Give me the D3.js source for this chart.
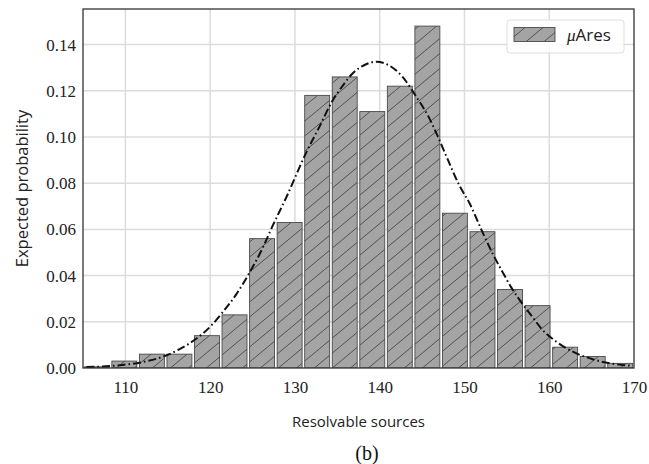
<!DOCTYPE html>
<html>
<head>
<meta charset="utf-8">
<script src="https://cdn.jsdelivr.net/npm/d3@7"></script>
<style>
  html, body { margin: 0; padding: 0; background: #fff; }
  svg { display: block; }
  .tick text { font-family: "Liberation Serif", "DejaVu Serif", serif; font-size: 17px; fill: #222; }
</style>
</head>
<body>
<svg id="chart" width="649" height="464"></svg>
<script>
// Histogram bin edges (resolvable sources)
const binEdges = [105, 108.25, 111.5, 114.75, 118, 121.25, 124.5, 127.75, 131, 134.25,
                  137.5, 140.75, 144, 147.25, 150.5, 153.75, 157, 160.25, 163.5, 166.75, 170];
// Expected probability per bin
const binProb = [0.0005, 0.003, 0.006, 0.006, 0.014, 0.023, 0.056, 0.063, 0.118, 0.126,
                 0.111, 0.122, 0.148, 0.067, 0.059, 0.034, 0.027, 0.009, 0.005, 0.002];
// Fitted normal curve, sampled points
const fitX = [105.4, 109.6, 112.6, 114.8, 116.4, 118.1, 120.3, 121.4, 123.1, 124.6, 126.2,
              127.3, 129.0, 131.3, 132.9, 134.4, 135.6, 136.8, 138.4, 139.6, 141.1, 142.7,
              144.3, 145.8, 147.0, 148.0, 149.4, 150.6, 152.1, 153.3, 154.5, 155.5, 156.5,
              158.0, 159.2, 160.8, 162.7, 165.1, 167.4, 169.6];
const fitY = [0.0004, 0.0013, 0.003, 0.0054, 0.0082, 0.012, 0.019, 0.0238, 0.032, 0.041, 0.052,
              0.061, 0.074, 0.093, 0.1045, 0.1155, 0.122, 0.1275, 0.1315, 0.1326, 0.131, 0.126,
              0.1175, 0.1085, 0.099, 0.0905, 0.079, 0.0713, 0.059, 0.0497, 0.0415, 0.035, 0.0295,
              0.0222, 0.0165, 0.0115, 0.0072, 0.0038, 0.0019, 0.001];
const xTicks = [110, 120, 130, 140, 150, 160, 170];
const yTicks = [0.00, 0.02, 0.04, 0.06, 0.08, 0.10, 0.12, 0.14];
const seriesName = "Ares";

const svg = d3.select("#chart");
const plot = { left: 83, right: 634, top: 9, bottom: 368 };

const x = d3.scaleLinear().domain([105, 170]).range([plot.left, plot.right]);
const y = d3.scaleLinear().domain([0, 0.1554]).range([plot.bottom, plot.top]);

// Hatch pattern for the bars
const defs = svg.append("defs");
const pat = defs.append("pattern")
  .attr("id", "hatch")
  .attr("patternUnits", "userSpaceOnUse")
  .attr("width", 18).attr("height", 15);
pat.append("rect").attr("width", 18).attr("height", 15).attr("fill", "#a4a4a4");
pat.append("path")
  .attr("d", "M0,15 L18,0 M-18,15 L0,0 M18,15 L36,0")
  .attr("stroke", "#3a3a3a").attr("stroke-width", 0.8);

defs.append("clipPath").attr("id", "plotClip")
  .append("rect")
  .attr("x", plot.left).attr("y", plot.top)
  .attr("width", plot.right - plot.left).attr("height", plot.bottom - plot.top);

// Grid
const grid = svg.append("g");
grid.selectAll("line.gx").data(xTicks.filter(t => t < 170)).join("line")
  .attr("x1", d => x(d)).attr("x2", d => x(d))
  .attr("y1", plot.top).attr("y2", plot.bottom)
  .attr("stroke", "#dcdcdc").attr("stroke-width", 1.5);
grid.selectAll("line.gy").data(yTicks.filter(t => t > 0)).join("line")
  .attr("x1", plot.left).attr("x2", plot.right)
  .attr("y1", d => y(d)).attr("y2", d => y(d))
  .attr("stroke", "#dcdcdc").attr("stroke-width", 1.5);

// Bars
const bins = binProb.map((p, i) => ({ x0: binEdges[i], x1: binEdges[i + 1], p }));
svg.append("g").attr("clip-path", "url(#plotClip)")
  .selectAll("rect").data(bins).join("rect")
  .attr("x", d => x(d.x0) + 1.3)
  .attr("width", d => x(d.x1) - x(d.x0) - 2.6)
  .attr("y", d => y(d.p))
  .attr("height", d => y(0) - y(d.p))
  .attr("fill", "url(#hatch)")
  .attr("stroke", "#4a4a4a").attr("stroke-width", 0.9);

// Fitted curve
const line = d3.line()
  .x((d, i) => x(fitX[i])).y(d => y(d))
  .curve(d3.curveMonotoneX);
svg.append("path")
  .attr("clip-path", "url(#plotClip)")
  .attr("d", line(fitY))
  .attr("fill", "none")
  .attr("stroke", "#111")
  .attr("stroke-width", 2)
  .attr("stroke-dasharray", "8,3,1.6,3");

// Frame
svg.append("rect")
  .attr("x", plot.left).attr("y", plot.top)
  .attr("width", plot.right - plot.left).attr("height", plot.bottom - plot.top)
  .attr("fill", "none").attr("stroke", "#333").attr("stroke-width", 1.3);

// Axes
const serif = "Liberation Serif, DejaVu Serif, serif";
const sans = "Open Sans, DejaVu Sans, sans-serif";

const xAxis = svg.append("g")
  .attr("transform", `translate(0,${plot.bottom})`)
  .call(d3.axisBottom(x).tickValues(xTicks).tickFormat(d3.format("d")).tickSize(0).tickPadding(13));
const yAxis = svg.append("g")
  .attr("transform", `translate(${plot.left},0)`)
  .call(d3.axisLeft(y).tickValues(yTicks).tickFormat(d3.format(".2f")).tickSize(0).tickPadding(7));
[xAxis, yAxis].forEach(a => {
  a.attr("font-family", null).attr("font-size", null);
  a.select(".domain").remove();
});

// Axis titles
svg.append("text")
  .attr("x", (plot.left + plot.right) / 2).attr("y", 427)
  .attr("text-anchor", "middle")
  .style("font-family", sans).style("font-size", "15px").attr("fill", "#222")
  .text("Resolvable sources");
svg.append("text")
  .attr("transform", `translate(28,${(plot.top + plot.bottom) / 2}) rotate(-90)`)
  .attr("text-anchor", "middle")
  .style("font-family", sans).style("font-size", "16.5px").attr("fill", "#222")
  .text("Expected probability");
svg.append("text")
  .attr("x", 367).attr("y", 460)
  .attr("text-anchor", "middle")
  .style("font-family", serif).style("font-size", "20px").attr("fill", "#111")
  .text("(b)");

// Legend
const lg = svg.append("g");
lg.append("rect")
  .attr("x", 507).attr("y", 20).attr("width", 117).attr("height", 33).attr("rx", 3)
  .attr("fill", "#fff").attr("fill-opacity", 0.85)
  .attr("stroke", "#dddddd").attr("stroke-width", 1);
lg.append("rect")
  .attr("x", 514).attr("y", 27.5).attr("width", 41).attr("height", 14)
  .attr("fill", "url(#hatch)").attr("stroke", "#4a4a4a").attr("stroke-width", 0.9);
const lt = lg.append("text")
  .attr("x", 567).attr("y", 41)
  .style("font-size", "17px").attr("fill", "#222");
lt.append("tspan").style("font-family", serif).style("font-style", "italic").text("μ");
lt.append("tspan").style("font-family", sans).text(seriesName);
</script>
</body>
</html>
